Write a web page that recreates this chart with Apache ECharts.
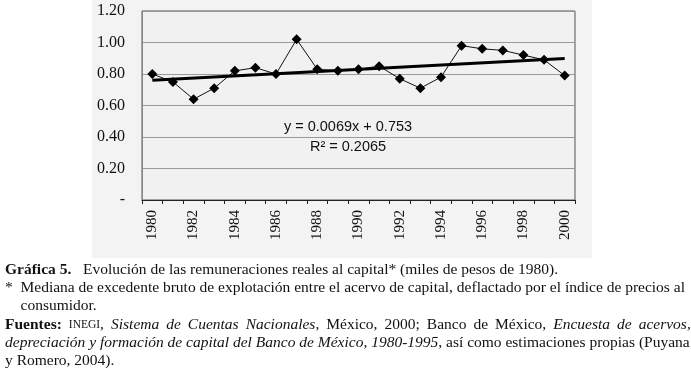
<!DOCTYPE html>
<html>
<head>
<meta charset="utf-8">
<script src="https://cdn.jsdelivr.net/npm/echarts@6/dist/echarts.min.js"></script>
<style>
html,body{margin:0;padding:0;background:#ffffff;}
#chart{width:691px;height:374px;}
</style>
</head>
<body>
<div id="chart"></div>
<script>
var years = ['1980','1981','1982','1983','1984','1985','1986','1987','1988','1989','1990','1991','1992','1993','1994','1995','1996','1997','1998','1999','2000'];
var values = [0.80,0.75,0.64,0.71,0.82,0.84,0.80,1.02,0.83,0.82,0.83,0.85,0.77,0.71,0.78,0.98,0.96,0.95,0.92,0.89,0.79];
var trendYears = ['1980','2000'];
var trendValues = [0.760,0.898];
var yTicks = ['-','0.20','0.40','0.60','0.80','1.00','1.20'];
var equationText = 'y = 0.0069x + 0.753';
var r2Text = 'R² = 0.2065';

var serif = '"Liberation Serif","DejaVu Serif",serif';
var sans = '"Liberation Sans",Arial,sans-serif';

var chart = echarts.init(document.getElementById('chart'));
var capSize = 15.5;
var lineH = 18.2;
var cap0 = 270;

var rich = {
  b: { fontFamily: serif, fontSize: capSize, fontWeight: 'bold', color: '#111' },
  n: { fontFamily: serif, fontSize: capSize, color: '#111' },
  i: { fontFamily: serif, fontSize: capSize, fontStyle: 'italic', color: '#111' },
  sc: { fontFamily: serif, fontSize: 11.5, color: '#111' },
  sp: { fontFamily: serif, fontSize: capSize, width: 7 }
};
function capLine(y, text) {
  return {
    type: 'text', x: 5, y: y, z: 10, silent: true,
    style: { text: text, rich: rich, fill: '#111', align: 'left', verticalAlign: 'middle' }
  };
}
var S = '{sp| }';

chart.setOption({
  animation: false,
  backgroundColor: '#ffffff',
  grid: { left: 142, right: 116, top: 11, bottom: 174, show: true, borderColor: '#555', borderWidth: 1, backgroundColor: '#f1f1f1' },
  graphic: [
    { type: 'rect', shape: { x: 92, y: 0, width: 500, height: 258 }, style: { fill: '#f3f3f3' }, z: -10, silent: true },
    { type: 'text', x: 348, y: 127, z: 10, silent: true, style: { text: equationText, font: '14.5px ' + sans, fill: '#111', align: 'center', verticalAlign: 'middle' } },
    { type: 'text', x: 348, y: 147, z: 10, silent: true, style: { text: r2Text, font: '14.5px ' + sans, fill: '#111', align: 'center', verticalAlign: 'middle' } },
    capLine(cap0, '{b|Gráfica 5.}{n|   Evolución de las remuneraciones reales al capital* (miles de pesos de 1980).}'),
    capLine(cap0 + lineH, '{n|*  Mediana de excedente bruto de explotación entre el acervo de capital, deflactado por el índice de precios al}'),
    capLine(cap0 + 2 * lineH, '{n|    consumidor.}'),
    capLine(cap0 + 3 * lineH, '{b|Fuentes:}' + S + '{sc|INEGI}{n|,}' + S + '{i|Sistema}' + S + '{i|de}' + S + '{i|Cuentas}' + S + '{i|Nacionales}{n|,}' + S + '{n|México,}' + S + '{n|2000;}' + S + '{n|Banco}' + S + '{n|de}' + S + '{n|México,}' + S + '{i|Encuesta}' + S + '{i|de}' + S + '{i|acervos,}'),
    capLine(cap0 + 4 * lineH, '{i|depreciación y formación de capital del Banco de México, 1980-1995}{n|, así como estimaciones propias (Puyana}'),
    capLine(cap0 + 5 * lineH, '{n|y Romero, 2004).}')
  ],
  xAxis: {
    type: 'category', data: years, boundaryGap: true,
    axisLine: { lineStyle: { color: '#222', width: 1 } },
    axisTick: { show: true, interval: 0, length: 4, lineStyle: { color: '#222' } },
    axisLabel: { interval: 1, rotate: 90, margin: 10, fontFamily: serif, fontSize: 15, color: '#111' },
    splitLine: { show: false }
  },
  yAxis: {
    type: 'value', min: 0, max: 1.2, interval: 0.2,
    axisLine: { show: true, lineStyle: { color: '#888' } },
    axisTick: { show: false },
    axisLabel: { margin: 17, fontFamily: serif, fontSize: 16, color: '#111',
      formatter: function (v) { return yTicks[Math.round(v / 0.2)]; } },
    splitLine: { show: true, lineStyle: { color: '#999', width: 1 } }
  },
  series: [
    {
      type: 'line', data: values, symbol: 'diamond', symbolSize: 10,
      lineStyle: { color: '#111', width: 1 }, itemStyle: { color: '#000' }, z: 3
    },
    {
      type: 'line', data: [[trendYears[0], trendValues[0]], [trendYears[1], trendValues[1]]],
      symbol: 'none', lineStyle: { color: '#000', width: 3 }, z: 4
    }
  ]
});
</script>
</body>
</html>
